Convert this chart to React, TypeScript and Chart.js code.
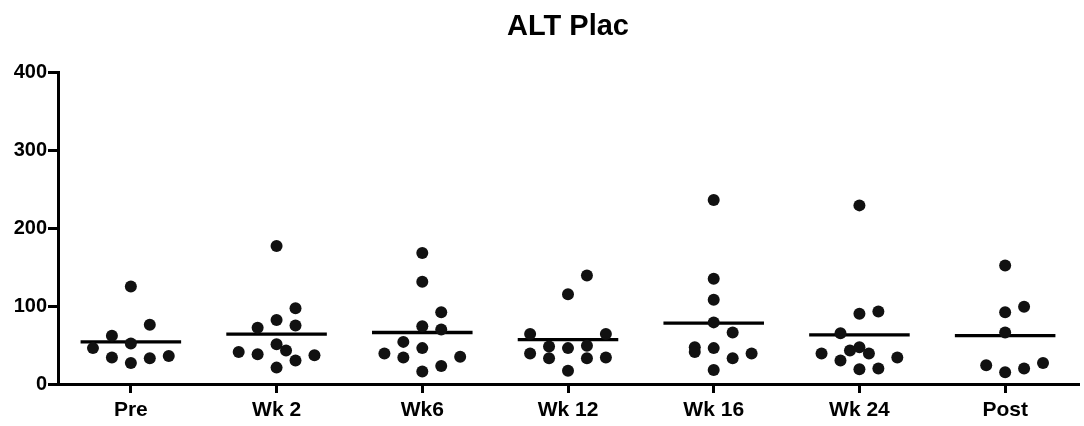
import React, { useEffect, useRef } from "react";
import { Chart, registerables } from "chart.js";

Chart.register(...registerables);

const TITLE = "ALT Plac";
const categories = ["Pre", "Wk 2", "Wk6", "Wk 12", "Wk 16", "Wk 24", "Post"];
const yTicks = [0, 100, 200, 300, 400];

const pre = [125, 76, 62, 52, 46, 34, 33, 36, 27];
const preSlots = [0, 1, -1, 0, -2, -1, 1, 2, 0];
const wk2 = [177, 97, 82, 72, 75, 51, 43, 41, 38, 30, 37, 21];
const wk2Slots = [0, 1, 0, -1, 1, 0, 0.5, -2, -1, 1, 2, 0];
const wk6 = [168, 131, 92, 74, 70, 54, 46, 39, 34, 35, 23, 16];
const wk6Slots = [0, 0, 1, 0, 1, -1, 0, -2, -1, 2, 1, 0];
const wk12 = [139, 115, 64, 64, 39, 48, 33, 46, 49, 33, 34, 17];
const wk12Slots = [1, 0, -2, 2, -2, -1, -1, 0, 1, 1, 2, 0];
const wk16 = [236, 135, 108, 79, 66, 47, 41, 46, 33, 39, 18];
const wk16Slots = [0, 0, 0, 0, 1, -1, -1, 0, 1, 2, 0];
const wk24 = [229, 93, 90, 65, 39, 43, 47, 39, 30, 34, 19, 20];
const wk24Slots = [0, 1, 0, -1, -2, -0.5, 0, 0.5, -1, 2, 0, 1];
const post = [152, 99, 92, 66, 24, 15, 20, 27];
const postSlots = [0, 1, 0, 0, -1, 0, 1, 2];

const means = [54, 64, 66, 57, 78, 63, 62];

const groups = [pre, wk2, wk6, wk12, wk16, wk24, post];
const slots = [preSlots, wk2Slots, wk6Slots, wk12Slots, wk16Slots, wk24Slots, postSlots];

const SLOT = 0.13;
const HALF = 0.345;
const FONT = "'Liberation Sans', Arial, Helvetica, sans-serif";

export default function App() {
  const ref = useRef<HTMLCanvasElement | null>(null);

  useEffect(() => {
    if (!ref.current) return;
    const points: { x: number; y: number }[] = [];
    groups.forEach((g, i) => {
      g.forEach((v, j) => points.push({ x: i + slots[i][j] * SLOT, y: v }));
    });
    const meanSets = means.map((m, i) => ({
      type: "line" as const,
      data: [
        { x: i - HALF, y: m },
        { x: i + HALF, y: m },
      ],
      borderColor: "#000",
      borderWidth: 3.3,
      pointRadius: 0,
      showLine: true,
      fill: false,
    }));

    const titlePlugin = {
      id: "centerTitle",
      afterDraw(chart: any) {
        const { ctx, chartArea } = chart;
        ctx.save();
        ctx.font = `bold 29px ${FONT}`;
        ctx.fillStyle = "#000";
        ctx.textAlign = "center";
        ctx.textBaseline = "alphabetic";
        ctx.fillText(TITLE, (chartArea.left + chartArea.right) / 2, 35);
        ctx.restore();
      },
    };

    const chart = new Chart(ref.current, {
      type: "scatter",
      data: {
        datasets: [
          {
            data: points,
            backgroundColor: "#111",
            borderWidth: 0,
            pointRadius: 6,
            pointHoverRadius: 6,
          } as any,
          ...(meanSets as any[]),
        ],
      },
      options: {
        animation: false,
        responsive: true,
        maintainAspectRatio: false,
        layout: { padding: { top: 72, right: 4, left: 0, bottom: 0 } },
        plugins: {
          legend: { display: false },
          title: { display: false },
          tooltip: { enabled: false },
        },
        scales: {
          x: {
            type: "linear",
            min: -0.5,
            max: 6.5,
            afterBuildTicks: (scale: any) => {
              scale.ticks = categories.map((_, i) => ({ value: i }));
            },
            afterFit: (scale: any) => {
              scale.height = 42;
            },
            ticks: {
              callback: (v: any) => categories[Math.round(Number(v))] ?? "",
              font: { family: FONT, size: 21, weight: "bold" },
              color: "#000",
              padding: 5,
              maxRotation: 0,
              autoSkip: false,
            },
            grid: {
              display: true,
              drawOnChartArea: false,
              drawTicks: true,
              tickLength: 9,
              color: "#000",
              lineWidth: 3,
            },
            border: { display: true, color: "#000", width: 3 },
          },
          y: {
            type: "linear",
            min: 0,
            max: 400,
            afterBuildTicks: (scale: any) => {
              scale.ticks = yTicks.map((v) => ({ value: v }));
            },
            afterFit: (scale: any) => {
              scale.width = 58;
            },
            ticks: {
              font: { family: FONT, size: 20, weight: "bold" },
              color: "#000",
              padding: 1,
            },
            grid: {
              display: true,
              drawOnChartArea: false,
              drawTicks: true,
              tickLength: 10,
              color: "#000",
              lineWidth: 3,
            },
            border: { display: true, color: "#000", width: 3 },
          },
        },
      } as any,
      plugins: [titlePlugin],
    });
    return () => chart.destroy();
  }, []);

  return (
    <div style={{ position: "absolute", left: 0, top: 0, width: 1084, height: 426, background: "#fff" }}>
      <canvas ref={ref} />
    </div>
  );
}
